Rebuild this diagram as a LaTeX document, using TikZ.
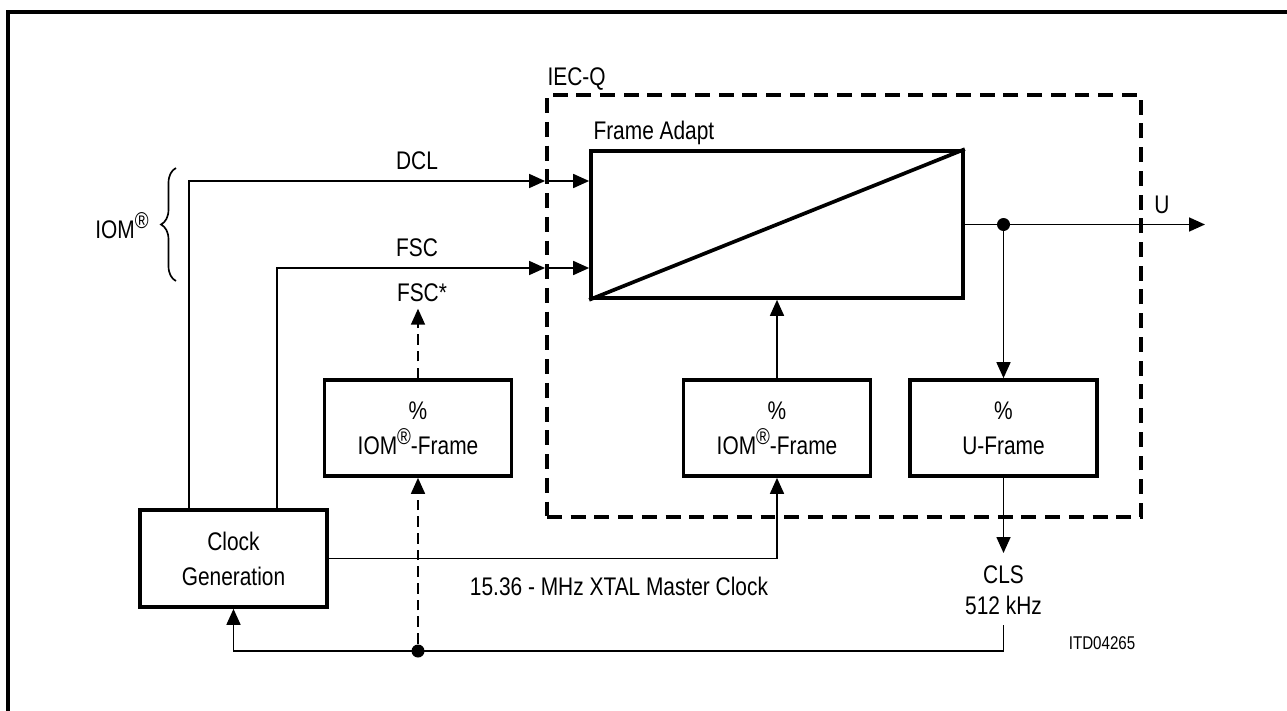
\documentclass[tikz,border=0pt]{standalone}
\usepackage{fontspec}
\setmainfont[FakeStretch=0.82]{Liberation Sans}
\usepackage{tikz}
\usetikzlibrary{arrows.meta,positioning,calc,decorations.pathreplacing}
\newcommand{\regmark}{\raisebox{0.4em}{\fontsize{13}{10}\selectfont\textregistered}}

\begin{document}
\begin{tikzpicture}[x=0.2mm,y=-0.2mm,line width=0.95pt,
  font=\fontsize{14.5}{20}\selectfont,>={Triangle[length=3.2mm,width=2.8mm]},
  blk/.style={draw,line width=2.1pt,align=center,minimum width=37.4mm,minimum height=19.2mm,inner sep=0pt},
  iecbox/.style={draw,line width=2.2pt,dash pattern=on 8.5pt off 5pt,minimum width=118.8mm,minimum height=84.4mm,inner sep=0pt},
  dsh/.style={dash pattern=on 6pt off 3.5pt},
  jdot/.style={circle,fill,inner sep=0pt,minimum size=2.6mm}]
\useasboundingbox (0,0) rectangle (1287,711);
% page frame (cut off)
\draw[line width=2.2pt] (8,711) -- (8,12) -- (1287,12);
% IEC-Q boundary
\node[iecbox] (iecq) at (844,306) {};
\node[anchor=south west,inner sep=1pt] (iecqlbl) at (iecq.north west) {IEC-Q};
% blocks
\node[blk,minimum width=74.4mm,minimum height=29.4mm] (adapt) at (777,224.5) {};
\draw[line width=2.1pt] (adapt.south west) -- (adapt.north east);
\node[anchor=south west,inner sep=2pt] (adaptlbl) at (adapt.north west) {Frame Adapt};
\node[blk] (iomA) at (418,428) {\%\\IOM\regmark-Frame};
\node[blk] (iomB) at (777,428) {\%\\IOM\regmark-Frame};
\node[blk] (uframe) at (1003.5,428) {\%\\U-Frame};
\node[blk,minimum height=19.4mm] (clkgen) at (233.5,558.5) {Clock\\Generation};
% IOM bus: DCL, FSC
\coordinate (dclin) at (iecq.west |- 0,181);
\coordinate (fscin) at (iecq.west |- 0,268);
\draw[->] (clkgen.north -| 189,0) |- (dclin);
\draw[->] (dclin) -- (adapt.west |- dclin);
\draw[->] (clkgen.north -| 277,0) |- (fscin);
\draw[->] (fscin) -- (adapt.west |- fscin);
\node (dcllbl) at (417,161) {DCL};
\node (fsclbl) at (417,248) {FSC};
\node (fscstar) at (422,293) {FSC*};
\draw[dsh,->] (iomA.north) -- (iomA.north |- fscstar.south);
\draw[decorate,decoration={brace,amplitude=3mm}] (176,281) -- (176,168);
\node (iomlbl) at (122,226) {IOM\regmark};
% master clock
\draw[->] (clkgen.east) -| (iomB.south);
\draw[->] (iomB.north) -- (adapt.south);
\node (xtal) at (619,586) {15.36 - MHz XTAL Master Clock};
% U output
\coordinate (uout) at (1205,224.5);
\coordinate (tap) at (uframe.north |- adapt.east);
\draw[->] (adapt.east) -- (uout);
\node[jdot] (tapdot) at (tap) {};
\draw[->] (tap) -- (uframe.north);
\node (ulbl) at (1162,205) {U};
% CLS feedback
\coordinate (clsin) at (uframe.south |- 0,553);
\coordinate (clsout) at (uframe.south |- 0,625);
\coordinate (fbcorner) at (uframe.south |- 0,651);
\draw[->] (uframe.south) -- (clsin);
\node[align=center,font=\fontsize{14.5}{17.5}\selectfont] (cls) at (1003.5,590) {CLS\\512 kHz};
\draw[->] (clsout) -- (fbcorner) -| (clkgen.south);
\node[jdot] (fbdot) at (iomA.south |- fbcorner) {};
\draw[dsh,->] (fbdot) -- (iomA.south);
\node[anchor=east,font=\fontsize{10.5}{11}\selectfont] (itd) at (1142,643) {ITD04265};
\end{tikzpicture}
\end{document}
